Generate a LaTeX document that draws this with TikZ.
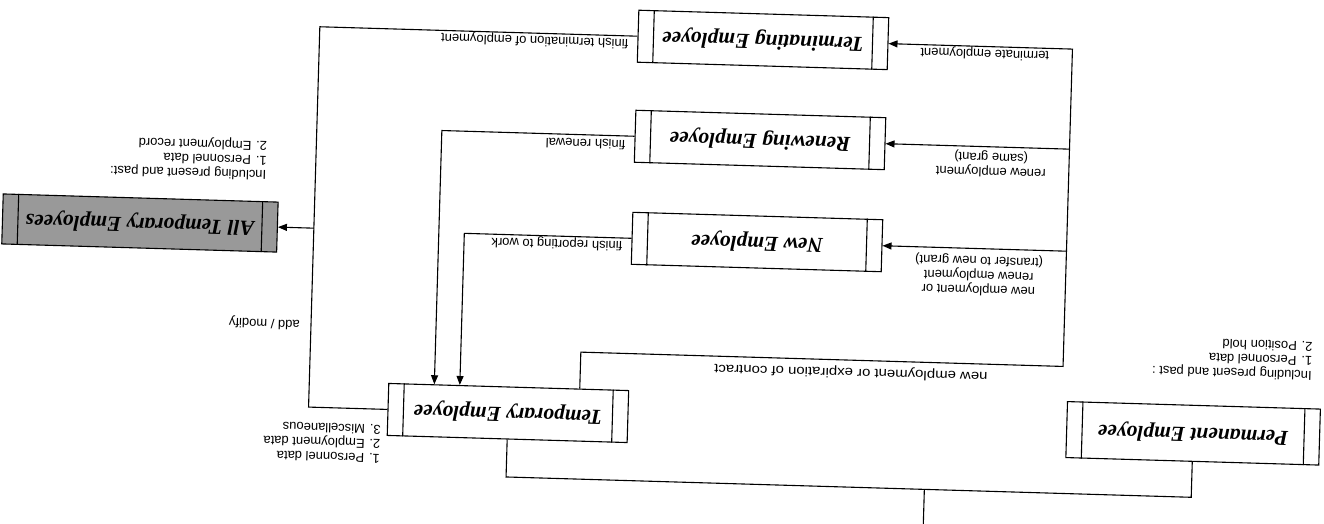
\documentclass[tikz,border=0pt]{standalone}
\usepackage{fontspec}
\setmainfont{Liberation Serif}
\setsansfont{Liberation Sans}
\usetikzlibrary{arrows.meta,calc}
\newcommand{\sidebars}[2]{%
  \draw[line width=1.1pt] ($(#1.north west)!#2!(#1.north east)$) -- ($(#1.south west)!#2!(#1.south east)$);
  \draw[line width=1.1pt] ($(#1.north east)!#2!(#1.north west)$) -- ($(#1.south east)!#2!(#1.south west)$);}
\begin{document}
\begin{tikzpicture}[x=1pt,y=1pt,
  ent/.style={draw, line width=1.1pt, minimum width=250pt, minimum height=52pt, inner sep=0pt,
    font=\fontsize{21.5}{24}\selectfont\bfseries\itshape},
  lbl/.style={font=\sffamily\fontsize{13}{14.5}\selectfont, inner sep=1pt},
  conn/.style={line width=1.1pt},
  arr/.style={conn, -{Triangle[length=9pt,width=7pt]}}]
\useasboundingbox (0,-523) rectangle (1324,0);
\begin{scope}[shift={(662,-261.5)}, rotate=178.3, transform shape]
  % entity boxes
  \node[ent, minimum width=240pt] (temp) at (149.5,156) {Temporary Employee};
  \node[ent, minimum width=253pt, minimum height=56pt] (perm) at (-536,156) {Permanent Employee};
  \node[ent, minimum width=275pt, minimum height=50pt, fill=black!40] (allt) at (523,-23) {All Temporary Employees};
  \node[ent] (newe) at (-94.4,-22.3) {New Employee};
  \node[ent] (rene) at (-94.4,-124.4) {Renewing Employee};
  \node[ent] (term) at (-94.4,-224.5) {Terminating Employee};
  \sidebars{temp}{16pt}
  \sidebars{perm}{16pt}
  \sidebars{allt}{16pt}
  \sidebars{newe}{16pt}
  \sidebars{rene}{16pt}
  \sidebars{term}{16pt}
  % root tree
  \coordinate (root) at (-269,265);
  \coordinate (bus) at (-269,220);
  \draw[conn] (root) -- (bus);
  \draw[conn] (perm.north) |- (bus) -| (temp.north);
  % new employment / expiration of contract
  \coordinate (tA) at ($(temp.south west)!49.5pt!(temp.south east)$);
  \coordinate (vR) at (-404,93);
  \draw[arr] (tA) |- (vR) |- (term.west);
  \draw[arr] (vR |- newe.west) -- (newe.west);
  \draw[arr] (vR |- rene.west) -- (rene.west);
  % finish lines back to temporary employee
  \coordinate (tB) at ($(temp.south west)!169.5pt!(temp.south east)$);
  \coordinate (tC) at ($(temp.south west)!195pt!(temp.south east)$);
  \draw[arr] (newe.east) -| (tB);
  \draw[arr] (rene.east) -| (tC);
  % right bus to all temporary employees
  \coordinate (cR) at (349,-224.5);
  \draw[conn] (temp.east) -| (cR) -- (term.east);
  \draw[arr] (cR |- allt.west) -- (allt.west);
  % labels
  \node[lbl, anchor=base west] (l1) at (39,-221) {finish termination of employment};
  \node[lbl, anchor=base west] (l2) at (39,-120) {finish renewal};
  \node[lbl, anchor=base west] (l3) at (39,-18.5) {finish reporting to work};
  \node[lbl, anchor=base west] (l4) at (-382,-221) {terminate employment};
  \node[lbl, align=center] (l5) at (-326,-107) {renew employment\\(same grant)};
  \node[lbl, align=center] (l6) at (-317,4) {new employment or\\renew employment\\(transfer to new grant)};
  \node[lbl, anchor=east, xscale=1.15] (l7) at (-54,105) {new employment or expiration of contract};
  \node[lbl, anchor=west] (l8) at (359,73) {add / modify};
  \node[lbl, anchor=west, align=left] (l9) at (397,-90) {Including present and past:\\1. Personnel data\\2. Employment record};
  \node[lbl, anchor=west, align=left] (l10) at (275,191) {1. Personnel data\\2. Employment data\\3. Miscellaneous};
  \node[lbl, anchor=west, align=left] (l11) at (-654,80.5) {Including present and past :\\1. Personnel data\\2. Position hold};
\end{scope}
\end{tikzpicture}
\end{document}
